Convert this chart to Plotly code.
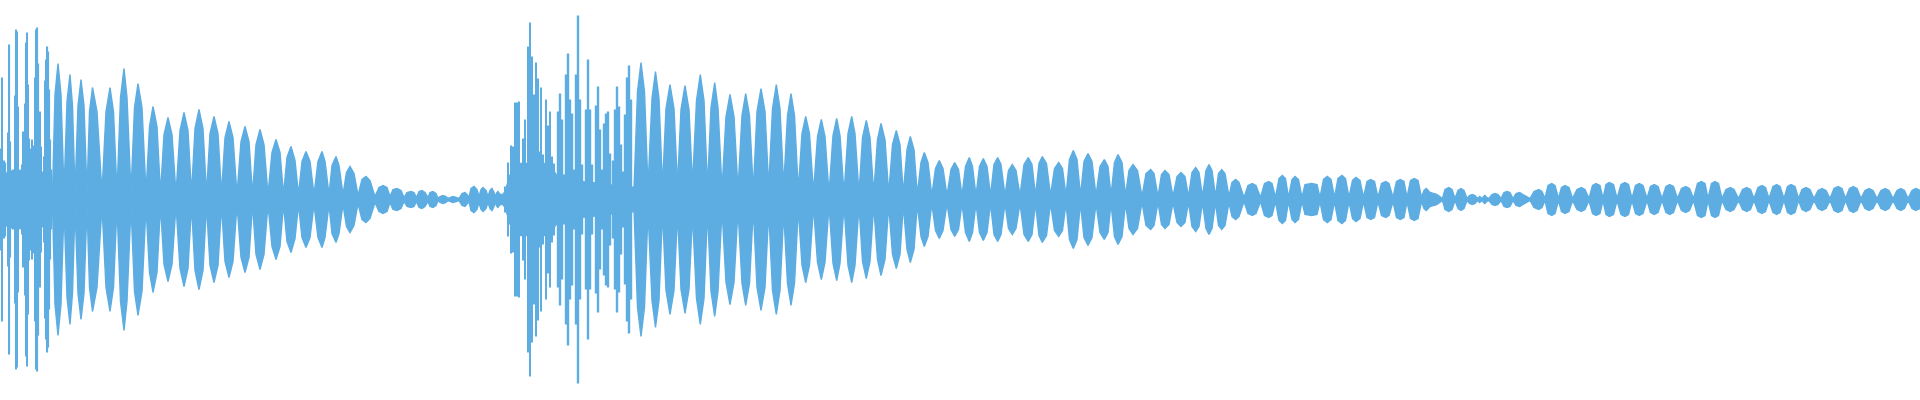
import plotly.graph_objects as go

# Waveform envelope: horizontal position and half-height of each lobe
# (row = trough, rising flank, peak, falling flank)
env_x = [
 0, 8, 30, 42, 44,
 52.5,55,58,61, 64,67,70,72.5, 75,78,81,84, 87,89.5,92.5,97, 102,106,110,113.5,
 117,120.5,124,127, 131,134.5,138,142, 146,149.5,153,157, 160.5,164,168,172,
 176,180,184,188, 191.5,195,199,203, 206.5,210,214,218, 221.5,225,229,233,
 237,241,245,249, 252.5,256,260,264, 268,272,276,280, 283.5,287,291,295,
 298.5,302,306,310, 314,318,322,325, 329,332,336,339, 343,346.5,350,354,
 358,362,366,370, 375,379,383,387, 390,393,397,401, 404,407,411,414,
 416.5,419,422,425, 428,430,433,436, 438,440,443,446, 448,450.5,453,456,
 459,462,465,467, 469,471,474,477, 479,481,483,486, 488,490,492,494,
 495,497,498,500, 503, 505,510,520,550,556,580,600,
 634,637.5,641,644.5, 648,652,655.5,659, 662.5,666,670,674, 677.5,681,685,689,
 692.5,696.5,700.3,704, 707.5,711,714.7,718, 722,726,730,734, 738,742,745.7,749.5,
 753.3,757,761,765, 768.7,772.5,776.3,780, 783.7,787.5,791,794.5, 798.3,802,805.7,809.5,
 813.5,817.5,821.3,825, 829,833,836.7,840, 844,848,851.7,855, 859,862.5,866.3,870,
 873.7,877.5,881,885, 888.7,892.5,896.3,900, 903.3,907,910.3,914, 917.3,921,924.3,928,
 931.8,935.5,939.3,943, 947,951,954.7,958.5, 962,965.5,969.3,972.5, 976,979.5,983.3,987,
 990.5,994,997.7,1001, 1005,1008.5,1012.3,1016, 1020,1024,1028.3,1032, 1035.5,1039,1042.3,1046.5,
 1050.5,1054.5,1058.7,1062.5, 1066,1069.5,1073.3,1077, 1080.5,1084,1088,1092, 1096,1100,1104.3,1108,
 1111,1114.5,1118,1122, 1125.5,1129,1133,1137.5, 1142,1146,1150.7,1154, 1158,1161.5,1165,1169,
 1173,1177,1181,1185, 1188.5,1192,1195.7,1199, 1202.5,1206,1209,1212, 1215.5,1218.5,1221.7,1225,
 1229,1232,1235.7,1239, 1244,1248,1252.3,1256, 1260.5,1264.5,1268.7,1272, 1275.5,1279,1282.3,1285.5,
 1288.5,1292,1295,1298.5, 1302,1305,1311.7,1317, 1320,1323.5,1327.3,1331, 1334.5,1338,1342,1345.5,
 1349,1352.5,1356,1360, 1363.5,1367,1370.7,1374.5, 1378,1381.5,1385.7,1389, 1393,1396.5,1400.3,1404,
 1407,1410.5,1414.3,1418, 1421.5,1424,1426.3,1430,1436.7, 1442.5,1445,1448.7,1452, 1455,1458,1461,1464,
 1467,1469.5,1472.3,1475, 1477.5,1478.5,1479.7,1481, 1482.5,1483.5,1485,1486.5, 1489,1492,1495,1498,
 1501,1504,1507,1510, 1513,1516,1519.7,1523, 1530,1534,1538.7,1542, 1545,1548,1551.7,1555,
 1558.5,1561.5,1565,1569, 1572.5,1577,1581.3,1585, 1589,1592.5,1596,1600, 1603,1606,1609.3,1613.5,
 1617,1621,1625,1628.5, 1632,1635.5,1639.3,1643, 1647,1650.5,1654.3,1658, 1662,1666,1669.7,1673.5,
 1677.5,1681.5,1685.7,1689.5, 1693.5,1697.5,1701.3,1705, 1708,1711.5,1715,1718.5, 1722,1726,1730.3,1734,
 1738.5,1742.5,1746.7,1750.5, 1754,1758,1762,1765.5, 1769,1773,1776.7,1780, 1784,1787.5,1791,1795,
 1798.5,1802,1806,1810, 1814,1818,1822,1826, 1830,1834,1838,1842, 1845.5,1849.5,1853.3,1857,
 1861,1865,1869,1873, 1877,1881,1885.3,1889, 1893,1897,1900.7,1904.5, 1908,1912,1915.7,1918, 1920,
]
env_amp = [
 17, 28, 30, 20, 8,
 6,105,136,105, 7,98,125,94, 7,94,120,94, 7,88,112,88, 7,88,112,88,
 7,102,131,102, 7,92,116,92, 7,73,93,73, 6,65,82,65,
 6,69,87,69, 6,71,90,71, 6,66,83,66, 6,62,78,62,
 5,58,73,58, 5,55,70,55, 5,47,60,47, 5,42,53,39,
 5,38,48,38, 5,38,48,38, 5,34,43,34, 5,27,33,26,
 4,20,23,19, 3,12,14,12, 3,10,11,9, 2,7,8,7,
 2,8,9,7, 2,7,8,6, 1,3,4,3, 1,2,3,2,
 1,6,7,5, 2,11,13,10, 3,10,12,9, 3,9,11,7,
 3,7,8,5, 5, 8,24,36,36,25,18,16,
 10,108,137,108, 12,101,128,101, 12,91,115,91, 14,90,114,90,
 15,99,125,99, 12,92,117,92, 10,83,105,83, 10,84,106,84,
 9,88,111,88, 12,91,115,91, 13,84,106,84, 9,66,83,66,
 7,63,80,63, 6,64,81,64, 6,66,83,66, 6,62,79,62,
 6,60,76,60, 6,55,69,55, 6,50,63,50, 5,37,47,37,
 4,31,39,31, 4,30,37,30, 4,33,42,33, 4,33,41,33,
 4,35,42,35, 4,29,35,29, 4,35,42,35, 4,36,43,36,
 4,31,37,31, 4,40,49,40, 4,38,46,38, 4,33,40,33,
 4,37,45,37, 4,29,35,29, 3,26,30,26, 3,25,29,25,
 3,23,27,23, 3,27,32,27, 3,29,35,29, 3,26,30,26,
 3,17,20,17, 2,14,16,14, 2,16,18,16, 2,21,24,21,
 2,20,23,20, 2,15,16,15, 2,20,23,20, 2,21,24,21,
 2,19,22,19, 2,18,20,18, 2,16,18,16, 2,18,20,18,
 2,19,21,19, 2,9,11,7,5, 1,10,12,10, 1,9,11,9,
 1,4,5,4, 1,2,3,2, 1,3,4,2, 1,5,6,5,
 1,7,8,7, 1,6,7,5, 1,8,10,8, 1,14,16,14,
 1,12,14,12, 1,10,12,10, 1,14,16,14, 1,15,17,15,
 1,15,17,15, 1,14,16,14, 1,13,15,13, 1,13,15,13,
 1,11,13,11, 1,16,18,16, 1,16,18,16, 1,10,12,10,
 1,10,12,10, 1,12,14,12, 1,13,15,13, 1,13,15,13,
 1,10,12,10, 1,9,11,9, 1,11,13,11, 1,11,13,11,
 1,9,11,9, 1,9,11,9, 1,9,11,9, 1,9,11,10, 9,
]

# Thin attack transients read column by column
spike_x = [
 1.5,2.4,3.4,4.4,5.5,7,8.5,9.5,10.5,11.5,12.5,13.5,15,16,17,18,19,20,22,23,24,25,26,27,28,29,30,31,32,33,34,35,
 36.5,37.5,38.5,40,41,42,44,45.5,46.5,47.5,48.5,49.5,50.5,51.5,
 505,508.3,510.3,511.3,513,514.7,516.7,518,519.3,521,522.7,525,526.7,528,530,531.7,532.7,534,536,537.7,538.7,
 540.7,543.3,546,547.7,550,552,554,
]
spike_amp = [
 51,122,31,39,37,23,67,155,58,18,26,30,104,170,168,93,24,27,35,68,46,96,157,167,115,61,39,51,60,26,54,122,
 170,172,136,88,53,28,43,119,140,153,148,110,60,30,
 13,37,25,54,53,97,97,40,98,24,61,80,25,153,177,143,36,105,137,121,48,
 112,45,100,74,88,43,36,
]
burst_x = [556,558,560,562,564,566,568,570,572,574,576,578,580,582,584,586,588,590,592,594,596,598,600,602,604,606,608,610,612,
           613,615,617,619,621,623,625,627,629,631,633]
burst_amp = [20,88,106,80,25,125,146,100,86,30,125,184,100,35,16,90,140,90,35,14,94,113,70,30,76,86,88,46,15,
             39,90,113,93,55,28,85,122,134,100,13]

COLOR = "#5DADE2"
CENTER = 199.5

fig = go.Figure()
fig.add_trace(go.Scatter(
    x=env_x + env_x[::-1],
    y=env_amp + [-a for a in env_amp[::-1]],
    mode="lines", fill="toself", fillcolor=COLOR,
    line=dict(color=COLOR, width=1.4), hoverinfo="skip", showlegend=False))
fig.add_trace(go.Bar(x=spike_x, y=[2 * a for a in spike_amp], base=[-a for a in spike_amp],
                     width=1.2, marker=dict(color=COLOR, line=dict(width=0)), showlegend=False, hoverinfo="skip"))
fig.add_trace(go.Bar(x=burst_x, y=[2 * a for a in burst_amp], base=[-a for a in burst_amp],
                     width=2.4, marker=dict(color=COLOR, line=dict(width=0)), showlegend=False, hoverinfo="skip"))
fig.update_layout(
    width=1920, height=400, margin=dict(l=0, r=0, t=0, b=0),
    paper_bgcolor="white", plot_bgcolor="white", barmode="overlay",
    xaxis=dict(visible=False, range=[0, 1920], fixedrange=True),
    yaxis=dict(visible=False, range=[-(400 - CENTER), CENTER], fixedrange=True),
)
fig.write_html("out.html", config={"displayModeBar": False},
               post_script="document.body.style.margin='0';document.body.style.overflow='hidden';")
